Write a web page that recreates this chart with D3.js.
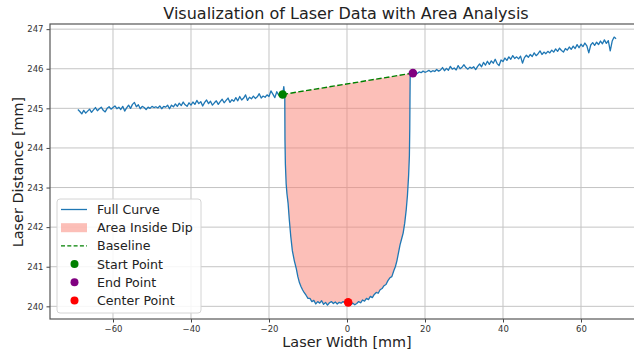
<!DOCTYPE html>
<html><head><meta charset="utf-8">
<script src="https://cdn.jsdelivr.net/npm/d3@7"></script>
<style>html,body{margin:0;padding:0;background:#fff;overflow:hidden}svg{display:block}</style>
</head><body><svg id="c" width="634" height="353"></svg>
<script>
// ---- data ----
const xTicks = [-60, -40, -20, 0, 20, 40, 60];
const yTicks = [240, 241, 242, 243, 244, 245, 246, 247];
const leftStart = -69, leftStep = 0.5;
const leftY = [244.97,244.92,244.86,244.95,244.88,244.93,244.98,244.90,244.96,245.02,244.94,244.99,245.03,244.95,244.91,245.00,245.04,244.98,245.02,245.06,244.99,245.03,244.97,245.05,244.93,245.01,245.08,245.00,245.10,245.15,245.04,245.09,244.99,245.05,245.02,244.97,245.03,245.00,245.05,245.02,245.04,245.01,245.06,244.99,245.05,245.03,245.08,244.99,245.08,245.04,245.11,245.05,245.13,245.07,245.16,245.09,245.05,245.14,245.08,245.16,245.10,245.20,245.12,245.17,245.06,245.15,245.21,245.12,245.18,245.08,245.14,245.19,245.10,245.17,245.23,245.14,245.20,245.26,245.15,245.22,245.18,245.27,245.19,245.30,245.21,245.26,245.34,245.20,245.28,245.24,245.31,245.25,245.29,245.37,245.26,245.31,245.28,245.34,245.30,245.44,245.36,245.27,245.42,245.33,245.38];
const dipX = [-16.5,-16.2,-15.95,-15.9,-15.8,-15.6,-15.4,-15.1,-14.8,-14.4,-14.0,-13.5,-13.0,-12.6,-12.2,-11.8,-11.4,-11.0,-10.5,-10.0,-9.5,-9.0,-8.5,-8.0,-7.5,-7.0,-6.5,-6.0,-5.5,-5.0,-4.5,-4.0,-3.5,-3.0,-2.5,-2.0,-1.5,-1.0,-0.5,0.0,0.5,1.0,1.5,2.0,2.5,3.0,3.5,4.0,4.5,5.0,5.5,6.0,6.5,7.0,7.5,8.0,8.5,9.0,9.5,10.0,10.5,11.0,11.5,12.0,12.4,12.8,13.2,13.6,14.0,14.4,14.8,15.2,15.5,15.8,16.0,16.1,16.15,16.2,16.5,16.9,17.2];
const dipY = [245.35,245.55,245.3,244.2,243.6,243.1,242.85,242.6,242.2,241.75,241.4,241.15,240.95,240.75,240.6,240.5,240.42,240.35,240.28,240.2,240.2,240.12,240.15,240.06,240.12,240.08,240.14,240.05,240.1,240.03,240.09,240.12,240.07,240.11,240.06,240.1,240.08,240.12,240.09,240.1,240.1,240.05,240.08,240.04,240.07,240.12,240.09,240.16,240.13,240.2,240.17,240.25,240.22,240.3,240.35,240.33,240.42,240.45,240.52,240.55,240.65,240.72,240.75,240.9,241.0,241.15,241.35,241.55,241.7,241.85,242.1,242.45,242.8,243.3,243.8,244.5,245.2,245.8,245.92,245.89,245.9];
const rightStart = 17.5, rightStep = 0.5;
const rightY = [245.91,245.88,245.92,245.90,245.94,245.91,245.93,245.96,245.92,245.95,245.93,245.98,245.94,245.97,246.03,245.95,246.01,245.96,246.06,245.99,246.02,245.97,246.08,246.00,246.04,246.10,246.03,245.99,246.04,246.01,246.05,245.98,246.06,246.12,246.05,246.16,246.09,246.19,246.11,246.20,246.14,246.24,246.13,246.08,246.22,246.18,246.27,246.21,246.30,246.24,246.33,246.26,246.30,246.25,246.32,246.14,246.28,246.34,246.29,246.36,246.31,246.40,246.33,246.38,246.45,246.36,246.42,246.38,246.44,246.40,246.47,246.42,246.50,246.44,246.52,246.46,246.42,246.51,246.47,246.55,246.49,246.57,246.51,246.61,246.53,246.62,246.56,246.65,246.58,246.40,246.60,246.66,246.59,246.67,246.61,246.70,246.63,246.73,246.64,246.71,246.45,246.70,246.80,246.76];
const startPoint = [-16.5, 245.35];
const endPoint = [16.9, 245.89];
const centerPoint = [0.3, 240.1];
const legendLabels = ["Full Curve", "Area Inside Dip", "Baseline", "Start Point", "End Point", "Center Point"];

// ---- build ----
const full = [];
leftY.forEach((v, i) => full.push([leftStart + i * leftStep, v]));
dipX.forEach((v, i) => full.push([v, dipY[i]]));
rightY.forEach((v, i) => full.push([rightStart + i * rightStep, v]));
const dipPts = dipX.map((v, i) => [v, dipY[i]]).filter(d => d[0] >= startPoint[0] && d[0] <= endPoint[0]);
const baseAt = x => startPoint[1] + (endPoint[1] - startPoint[1]) * (x - startPoint[0]) / (endPoint[0] - startPoint[0]);

const svg = d3.select("#c");
const L = 50, R = 643, T = 24, B = 319;
const x = d3.scaleLinear().domain([-76.15, 75.9]).range([L, R]);
const y = d3.scaleLinear().domain([239.68, 247.13]).range([B, T]);

// grid
const g = svg.append("g");
g.selectAll(".gx").data(xTicks).join("line").attr("x1", d => x(d)).attr("x2", d => x(d)).attr("y1", T).attr("y2", B).attr("stroke", "#c4c4c4").attr("stroke-width", 1);
g.selectAll(".gy").data(yTicks).join("line").attr("y1", d => y(d)).attr("y2", d => y(d)).attr("x1", L).attr("x2", R).attr("stroke", "#c4c4c4").attr("stroke-width", 1);

// area
svg.append("path").datum(dipPts)
  .attr("d", d3.area().x(d => x(d[0])).y0(d => y(baseAt(d[0]))).y1(d => y(d[1])))
  .attr("fill", "salmon").attr("fill-opacity", 0.5);

// full curve
svg.append("path").datum(full)
  .attr("d", d3.line().x(d => x(d[0])).y(d => y(d[1])))
  .attr("fill", "none").attr("stroke", "#1f77b4").attr("stroke-width", 1.3).attr("stroke-linejoin", "round");

// baseline
svg.append("path").datum([startPoint, endPoint])
  .attr("d", d3.line().x(d => x(d[0])).y(d => y(d[1])))
  .attr("stroke", "green").attr("stroke-width", 1.4).attr("stroke-dasharray", "5.5,2.4");

// points
[[startPoint, "green"], [endPoint, "purple"], [centerPoint, "red"]].forEach(([p, c]) => {
  svg.append("circle").attr("cx", x(p[0])).attr("cy", y(p[1])).attr("r", 4.3).attr("fill", c);
});

// axes
const xa = svg.append("g").attr("transform", `translate(0,${B})`)
  .call(d3.axisBottom(x).tickValues(xTicks).tickSize(3.5).tickPadding(3).tickFormat(d => d < 0 ? "\u2212" + Math.abs(d) : d));
const ya = svg.append("g").attr("transform", `translate(${L},0)`)
  .call(d3.axisLeft(y).tickValues(yTicks).tickSize(3.5).tickPadding(3));
[xa, ya].forEach(a => {
  a.select(".domain").remove();
  a.selectAll("line").attr("stroke", "#444");
  a.selectAll("text").attr("font-family", "DejaVu Sans").attr("font-size", 8.5).attr("fill", "#333");
});
// spines
svg.append("rect").attr("x", L).attr("y", T).attr("width", R - L).attr("height", B - T)
  .attr("fill", "none").attr("stroke", "#555").attr("stroke-width", 1.2);

// title & labels
svg.append("text").attr("x", 346).attr("y", 19).attr("text-anchor", "middle")
  .attr("font-family", "DejaVu Sans").attr("font-size", 16).attr("fill", "#222")
  .text("Visualization of Laser Data with Area Analysis");
svg.append("text").attr("x", 347).attr("y", 347).attr("text-anchor", "middle")
  .attr("font-family", "DejaVu Sans").attr("font-size", 14.4).attr("fill", "#222")
  .text("Laser Width [mm]");
svg.append("text").attr("transform", "translate(23,172) rotate(-90)").attr("text-anchor", "middle")
  .attr("font-family", "DejaVu Sans").attr("font-size", 14.4).attr("fill", "#222")
  .text("Laser Distance [mm]");

// legend
const lg = svg.append("g");
lg.append("rect").attr("x", 57).attr("y", 199).attr("width", 144).attr("height", 114).attr("rx", 3)
  .attr("fill", "#fff").attr("fill-opacity", 0.85).attr("stroke", "#d4d4d4");
const rowY = i => 209.5 + i * 18.2;
legendLabels.forEach((t, i) => {
  const yy = rowY(i);
  if (i === 0) lg.append("line").attr("x1", 61).attr("x2", 87).attr("y1", yy).attr("y2", yy).attr("stroke", "#1f77b4").attr("stroke-width", 1.3);
  if (i === 1) lg.append("rect").attr("x", 61).attr("y", yy - 4.5).attr("width", 26).attr("height", 9).attr("fill", "salmon").attr("fill-opacity", 0.5);
  if (i === 2) lg.append("line").attr("x1", 61).attr("x2", 87).attr("y1", yy).attr("y2", yy).attr("stroke", "green").attr("stroke-width", 1.4).attr("stroke-dasharray", "4,2.3");
  if (i >= 3) lg.append("circle").attr("cx", 74.5).attr("cy", yy).attr("r", 4).attr("fill", ["green", "purple", "red"][i - 3]);
  lg.append("text").attr("x", 97).attr("y", yy).attr("dy", "0.36em")
    .attr("font-family", "DejaVu Sans").attr("font-size", 12.6).attr("fill", "#222").text(t);
});
</script></body></html>
